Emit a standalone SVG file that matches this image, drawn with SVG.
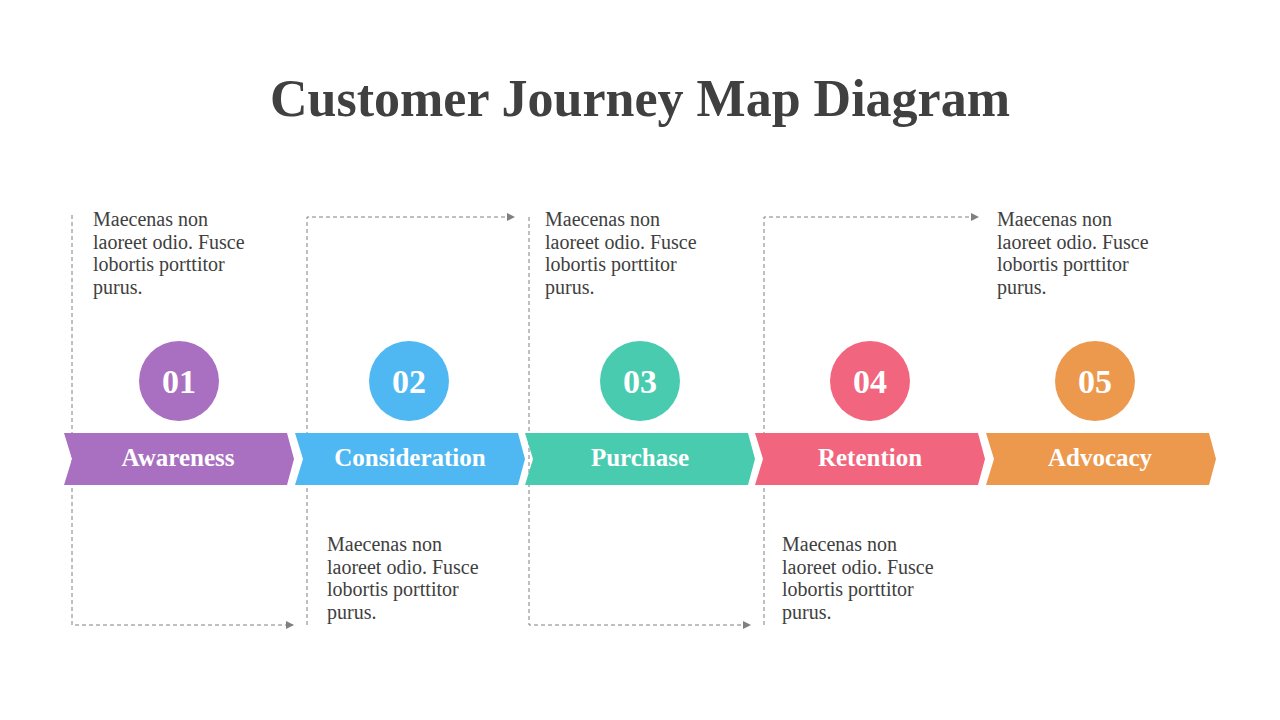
<svg xmlns="http://www.w3.org/2000/svg" width="1280" height="720" viewBox="0 0 1280 720">
<defs>
<marker id="ah" markerWidth="8" markerHeight="8" refX="7" refY="4" orient="auto" markerUnits="userSpaceOnUse"><path d="M0,0 L8,4 L0,8 Z" fill="#808080"/></marker>
<style>
.t{font-family:"Liberation Serif","DejaVu Serif",serif;fill:#404040}
.title{font-size:52px;font-weight:bold}
.body{font-size:20px}
.lab{font-family:"Liberation Serif","DejaVu Serif",serif;font-size:25px;font-weight:bold;fill:#fff;text-anchor:middle}
.num{font-family:"Liberation Serif","DejaVu Serif",serif;font-size:34px;font-weight:bold;fill:#fff;text-anchor:middle}
.dl{fill:none;stroke:#808080;stroke-width:1;stroke-dasharray:4,3}
</style>
</defs>
<rect width="1280" height="720" fill="#fff"/>
<text class="t title" x="640" y="116" text-anchor="middle">Customer Journey Map Diagram</text>
<g id="connectors">
<path class="dl" d="M72,215 V625 H293" marker-end="url(#ah)"/>
<path class="dl" d="M307,625 V217 H514" marker-end="url(#ah)"/>
<path class="dl" d="M529,217 V625 H750" marker-end="url(#ah)"/>
<path class="dl" d="M764,625 V217 H978" marker-end="url(#ah)"/>
</g>
<g id="n1">
<path d="M64,433 H287 L294,459 L287,485 H64 L72,459 Z" fill="#a970c1"/>
<text class="lab" x="178" y="466">Awareness</text>
<circle cx="179" cy="381" r="40" fill="#a970c1"/>
<text class="num" x="179" y="393">01</text>
<text class="t body" x="93" y="226">Maecenas non<tspan x="93" dy="22.5">laoreet odio. Fusce</tspan><tspan x="93" dy="22.5">lobortis porttitor</tspan><tspan x="93" dy="22.5">purus.</tspan></text>
</g>
<g id="n2">
<path d="M295,433 H518 L525,459 L518,485 H295 L303,459 Z" fill="#4fb8f2"/>
<text class="lab" x="410" y="466">Consideration</text>
<circle cx="409" cy="381" r="40" fill="#4fb8f2"/>
<text class="num" x="409" y="393">02</text>
<text class="t body" x="327" y="551">Maecenas non<tspan x="327" dy="22.5">laoreet odio. Fusce</tspan><tspan x="327" dy="22.5">lobortis porttitor</tspan><tspan x="327" dy="22.5">purus.</tspan></text>
</g>
<g id="n3">
<path d="M525,433 H748 L755,459 L748,485 H525 L533,459 Z" fill="#49cbb0"/>
<text class="lab" x="640" y="466">Purchase</text>
<circle cx="640" cy="381" r="40" fill="#49cbb0"/>
<text class="num" x="640" y="393">03</text>
<text class="t body" x="545" y="226">Maecenas non<tspan x="545" dy="22.5">laoreet odio. Fusce</tspan><tspan x="545" dy="22.5">lobortis porttitor</tspan><tspan x="545" dy="22.5">purus.</tspan></text>
</g>
<g id="n4">
<path d="M755,433 H978 L985,459 L978,485 H755 L763,459 Z" fill="#f2657e"/>
<text class="lab" x="870" y="466">Retention</text>
<circle cx="870" cy="381" r="40" fill="#f2657e"/>
<text class="num" x="870" y="393">04</text>
<text class="t body" x="782" y="551">Maecenas non<tspan x="782" dy="22.5">laoreet odio. Fusce</tspan><tspan x="782" dy="22.5">lobortis porttitor</tspan><tspan x="782" dy="22.5">purus.</tspan></text>
</g>
<g id="n5">
<path d="M986,433 H1209 L1216,459 L1209,485 H986 L994,459 Z" fill="#ec994e"/>
<text class="lab" x="1100" y="466">Advocacy</text>
<circle cx="1095" cy="381" r="40" fill="#ec994e"/>
<text class="num" x="1095" y="393">05</text>
<text class="t body" x="997" y="226">Maecenas non<tspan x="997" dy="22.5">laoreet odio. Fusce</tspan><tspan x="997" dy="22.5">lobortis porttitor</tspan><tspan x="997" dy="22.5">purus.</tspan></text>
</g>
</svg>
